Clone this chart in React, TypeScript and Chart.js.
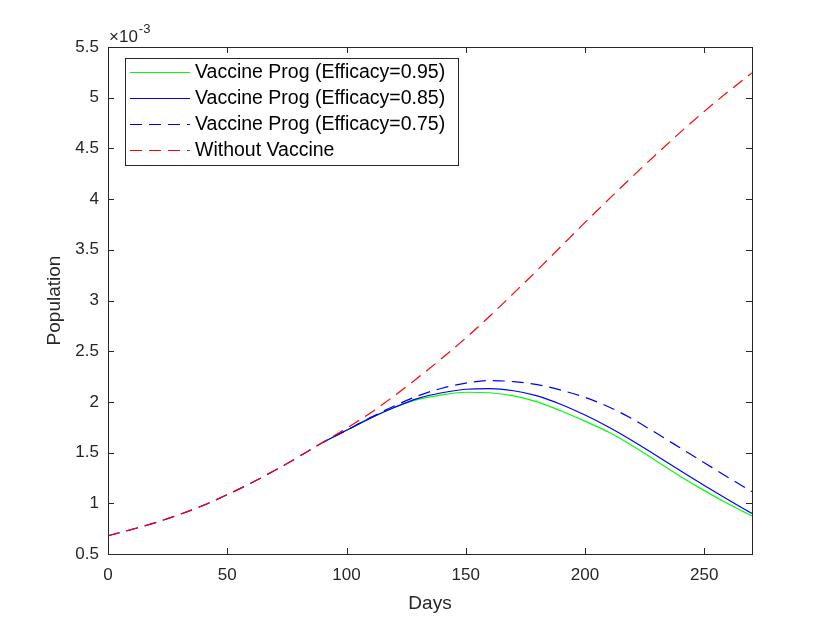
import { useEffect, useRef } from "react";
import { Chart, registerables } from "chart.js";

Chart.register(...registerables);

// values are in units of 1e-3
const days = [0, 10, 20, 30, 40, 50, 60, 70, 80, 90, 100, 110, 120, 130, 140, 150, 160, 170, 180, 190, 200, 210, 220, 230, 240, 250, 260, 270];
const early = [0.68, 0.742, 0.81, 0.89, 0.98, 1.085, 1.2, 1.325, 1.46, 1.6];
const withoutVaccine = [...early, 1.74, 1.89, 2.06, 2.24, 2.43, 2.63, 2.845, 3.07, 3.3, 3.535, 3.77, 4.0, 4.225, 4.445, 4.66, 4.865, 5.06, 5.245];
const eff75 = [...early, 1.72, 1.845, 1.96, 2.06, 2.135, 2.185, 2.21, 2.2, 2.17, 2.115, 2.045, 1.95, 1.83, 1.69, 1.545, 1.4, 1.255, 1.115];
const eff85 = [null, null, null, null, null, null, null, null, null, 1.6, 1.72, 1.84, 1.945, 2.035, 2.09, 2.125, 2.13, 2.11, 2.06, 1.975, 1.87, 1.75, 1.615, 1.47, 1.32, 1.175, 1.035, 0.9];
const eff95 = [null, null, null, null, null, null, null, null, null, 1.6, 1.72, 1.84, 1.945, 2.025, 2.07, 2.095, 2.09, 2.06, 2.0, 1.91, 1.81, 1.7, 1.565, 1.415, 1.265, 1.125, 0.995, 0.875];

const xTicks = [0, 50, 100, 150, 200, 250];
const yTicks = [0.5, 1, 1.5, 2, 2.5, 3, 3.5, 4, 4.5, 5, 5.5];

const seriesNames = [
  "Vaccine Prog (Efficacy=0.95)",
  "Vaccine Prog (Efficacy=0.85)",
  "Vaccine Prog (Efficacy=0.75)",
  "Without Vaccine",
];

const FONT = "'Liberation Sans', Arial, Helvetica, sans-serif";
const INK = "#262626";
const DASH = [12, 7];

const toPoints = (ys: (number | null)[]) => days.map((d, i) => ({ x: d, y: ys[i] }));

// box, inward ticks, exponent, axis titles, legend
const matlabAxes = {
  id: "matlabAxes",
  afterDraw(chart: any) {
    const { ctx, chartArea: a, scales } = chart;
    const { left, right, top, bottom } = a;
    ctx.save();
    ctx.strokeStyle = INK;
    ctx.lineWidth = 1;
    ctx.strokeRect(left + 0.5, top + 0.5, right - left, bottom - top);
    const tl = 6;
    ctx.beginPath();
    scales.x.ticks.forEach((t: any) => {
      const px = Math.round(scales.x.getPixelForValue(t.value)) + 0.5;
      ctx.moveTo(px, bottom); ctx.lineTo(px, bottom - tl);
      ctx.moveTo(px, top); ctx.lineTo(px, top + tl);
    });
    scales.y.ticks.forEach((t: any) => {
      const py = Math.round(scales.y.getPixelForValue(t.value)) + 0.5;
      ctx.moveTo(left, py); ctx.lineTo(left + tl, py);
      ctx.moveTo(right, py); ctx.lineTo(right - tl, py);
    });
    ctx.stroke();

    ctx.fillStyle = INK;
    ctx.textBaseline = "alphabetic";
    ctx.textAlign = "left";
    ctx.font = `17px ${FONT}`;
    ctx.fillText("\u00d710", left + 1, 42);
    const w = ctx.measureText("\u00d710").width;
    ctx.font = `13px ${FONT}`;
    ctx.fillText("-3", left + 2 + w, 33);

    ctx.font = `19px ${FONT}`;
    ctx.textAlign = "center";
    ctx.textBaseline = "middle";
    ctx.fillText("Days", (left + right) / 2, 604);
    ctx.save();
    ctx.translate(55, (top + bottom) / 2);
    ctx.rotate(-Math.PI / 2);
    ctx.fillText("Population", 0, 0);
    ctx.restore();

    // legend
    const lx = 125, ly = 58, lw = 333, lh = 107;
    ctx.fillStyle = "#ffffff";
    ctx.fillRect(lx, ly, lw, lh);
    ctx.strokeStyle = INK;
    ctx.strokeRect(lx + 0.5, ly + 0.5, lw, lh);
    chart.data.datasets.forEach((ds: any, i: number) => {
      const y = 72 + i * 26;
      ctx.strokeStyle = ds.borderColor;
      ctx.lineWidth = 1;
      ctx.setLineDash(ds.borderDash || []);
      ctx.beginPath();
      ctx.moveTo(130, y + 0.5);
      ctx.lineTo(190, y + 0.5);
      ctx.stroke();
      ctx.setLineDash([]);
      ctx.fillStyle = "#000";
      ctx.textAlign = "left";
      ctx.font = `19.5px ${FONT}`;
      ctx.fillText(ds.label, 195, y + 1);
    });
    ctx.restore();
  },
};

export default function App() {
  const canvasRef = useRef<HTMLCanvasElement | null>(null);

  useEffect(() => {
    if (!canvasRef.current) return;
    const common = { pointRadius: 0, borderWidth: 1.2, fill: false, cubicInterpolationMode: "monotone" as const };
    const chart = new Chart(canvasRef.current, {
      type: "line",
      data: {
        datasets: [
          { ...common, label: seriesNames[0], data: toPoints(eff95), borderColor: "#00ff00", order: 3 },
          { ...common, label: seriesNames[1], data: toPoints(eff85), borderColor: "#0000ff", order: 2 },
          { ...common, label: seriesNames[2], data: toPoints(eff75), borderColor: "#0000ff", borderDash: DASH, order: 1 },
          { ...common, label: seriesNames[3], data: toPoints(withoutVaccine), borderColor: "#ff0000", borderDash: DASH, order: 0 },
        ],
      },
      options: {
        animation: false,
        responsive: true,
        maintainAspectRatio: false,
        layout: { padding: { top: 47, right: 78, left: 0, bottom: 0 } },
        plugins: { legend: { display: false }, tooltip: { enabled: false } },
        scales: {
          x: {
            type: "linear",
            min: 0,
            max: 270,
            grid: { display: false, drawTicks: false },
            border: { display: false },
            ticks: { padding: 11, color: INK, font: { family: FONT, size: 17 }, maxRotation: 0 },
            afterBuildTicks: (s: any) => { s.ticks = xTicks.map((v) => ({ value: v })); },
            afterFit: (s: any) => { s.height = 69; },
          },
          y: {
            min: 0.5,
            max: 5.5,
            grid: { display: false, drawTicks: false },
            border: { display: false },
            ticks: { padding: 9, color: INK, font: { family: FONT, size: 17 }, callback: (v: any) => String(v) },
            afterBuildTicks: (s: any) => { s.ticks = yTicks.map((v) => ({ value: v })); },
            afterFit: (s: any) => { s.width = 108; },
          },
        },
      },
      plugins: [matlabAxes],
    });
    return () => chart.destroy();
  }, []);

  return (
    <div style={{ position: "absolute", left: 0, top: 0, width: 830, height: 623, background: "#fff" }}>
      <canvas ref={canvasRef} />
    </div>
  );
}
